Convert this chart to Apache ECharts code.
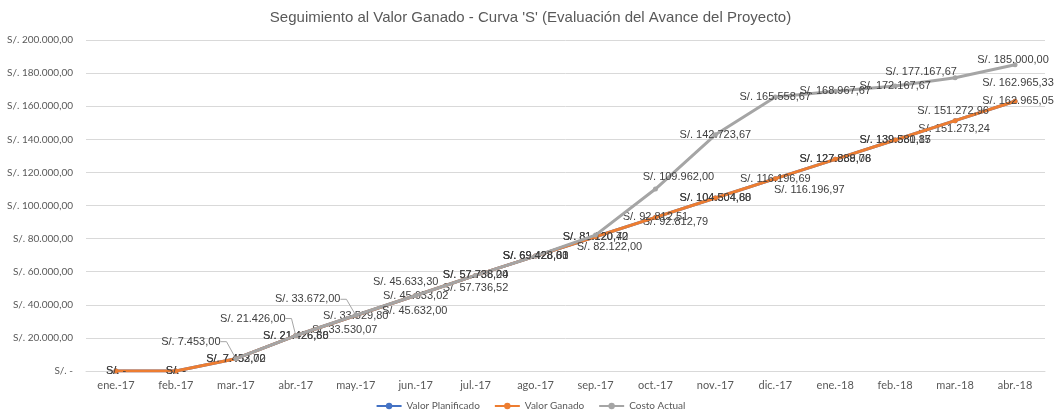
<!DOCTYPE html>
<html>
<head>
<meta charset="utf-8">
<script src="https://cdn.jsdelivr.net/npm/echarts@6/dist/echarts.min.js"></script>
<style>
  html, body { margin: 0; padding: 0; background: #ffffff; }
  #chart { width: 1061px; height: 420px; }
</style>
</head>
<body>
<div id="chart"></div>
<script>
// Months of the project (Jan 2017 – Apr 2018)
const categories = ['ene.-17', 'feb.-17', 'mar.-17', 'abr.-17', 'may.-17', 'jun.-17', 'jul.-17', 'ago.-17',
  'sep.-17', 'oct.-17', 'nov.-17', 'dic.-17', 'ene.-18', 'feb.-18', 'mar.-18', 'abr.-18'];

// Planned value (PV), cumulative, in soles
const valorPlanificado = [0, 0, 7453.00, 21426.88, 33530.07, 45633.30, 57736.52, 69428.61,
  81120.70, 92812.79, 104504.88, 116196.97, 127889.06, 139581.15, 151273.24, 162965.33];

// Earned value (EV), cumulative, in soles
const valorGanado = [0, 0, 7452.72, 21426.60, 33529.80, 45633.02, 57736.24, 69428.33,
  81120.42, 92812.51, 104504.60, 116196.69, 127888.78, 139580.87, 151272.96, 162965.05];

// Actual cost (AC), cumulative, in soles (no spending recorded in the first two months)
const costoActual = [null, null, 7453.00, 21426.00, 33672.00, 45632.00, 57738.00, 69428.00,
  82122.00, 109962.00, 142723.67, 165558.67, 168967.67, 172167.67, 177167.67, 185000.00];

const seriesNames = ['Valor Planificado', 'Valor Ganado', 'Costo Actual'];
const seriesColors = ['#4472C4', '#ED7D31', '#A5A5A5'];

// Value axis range
const yMin = 0, yMax = 200000, yStep = 20000;

// Label nudges (dx, dy in px) for labels that would otherwise sit on top of each other
const labelNudges = [
  { 4: [-11, 14], 5: [-10, -14], 6: [0, 13], 9: [20, 5], 11: [34, 11], 14: [-1, 8], 15: [3, -18] },
  { 14: [-2, -10], 15: [3, 0] },
  { 2: [-45, -17], 3: [-43, -17], 4: [-48, -16], 5: [-1, 15], 8: [14, 12], 9: [23, -12], 14: [-34, -6], 15: [-2, -5] }
];
// Labels that keep a leader line back to their point
const leaderLines = [[], [], [2, 3, 4]];

// Peruvian sol accounting format: "S/. 1.234,56", zero shown as "S/. -"
function soles(v) {
  if (v === 0) return 'S/. -';
  const parts = Math.abs(v).toFixed(2).split('.');
  const ent = parts[0].replace(/\B(?=(\d{3})+(?!\d))/g, '.');
  return 'S/. ' + ent + ',' + parts[1];
}

const seriesValues = [valorPlanificado, valorGanado, costoActual];
const uiFont = "Lato, 'Noto Sans', sans-serif";

const chart = echarts.init(document.getElementById('chart'), null, { renderer: 'canvas' });

const series = seriesValues.map((vals, s) => ({
  name: seriesNames[s],
  type: 'line',
  data: vals.map((v, i) => ({
    value: v,
    labelLine: { show: leaderLines[s].indexOf(i) >= 0 }
  })),
  color: seriesColors[s],
  symbol: 'circle',
  symbolSize: 5,
  showSymbol: true,
  lineStyle: { width: 3, color: seriesColors[s] },
  itemStyle: { color: seriesColors[s] },
  z: 2 + s,
  label: {
    show: true,
    position: 'inside',
    color: '#404040',
    fontFamily: "'Liberation Sans', Arial, sans-serif",
    fontSize: 11,
    formatter: p => soles(p.value)
  },
  labelLine: {
    show: false,
    length2: 6,
    lineStyle: { color: '#A6A6A6', width: 1 }
  },
  labelLayout: params => {
    const n = labelNudges[s][params.dataIndex];
    return n ? { dx: n[0], dy: n[1] } : {};
  },
  emphasis: { disabled: true },
  animation: false
}));

chart.setOption({
  backgroundColor: '#ffffff',
  animation: false,
  title: {
    text: "Seguimiento al Valor Ganado - Curva 'S' (Evaluación del Avance del Proyecto)",
    left: 'center',
    top: 5,
    textStyle: {
      color: '#595959',
      fontFamily: "'Liberation Sans', sans-serif",
      fontSize: 15,
      fontWeight: 'normal'
    }
  },
  legend: {
    data: seriesNames,
    bottom: 4,
    left: 'center',
    itemWidth: 25,
    itemHeight: 8,
    itemGap: 14,
    textStyle: { color: '#595959', fontFamily: uiFont, fontSize: 10 }
  },
  grid: { left: 86, right: 16, top: 40, bottom: 49, containLabel: false },
  xAxis: {
    type: 'category',
    data: categories,
    boundaryGap: true,
    axisLine: { show: true, lineStyle: { color: '#D9D9D9', width: 1 } },
    axisTick: { show: false },
    axisLabel: { color: '#595959', fontFamily: uiFont, fontSize: 11, margin: 9 }
  },
  yAxis: {
    type: 'value',
    min: yMin,
    max: yMax,
    interval: yStep,
    axisLine: { show: false },
    axisTick: { show: false },
    splitLine: { lineStyle: { color: '#D9D9D9', width: 1 } },
    axisLabel: {
      color: '#595959',
      fontFamily: uiFont,
      fontSize: 10,
      margin: 13,
      formatter: v => soles(v)
    }
  },
  series: series
});
</script>
</body>
</html>
